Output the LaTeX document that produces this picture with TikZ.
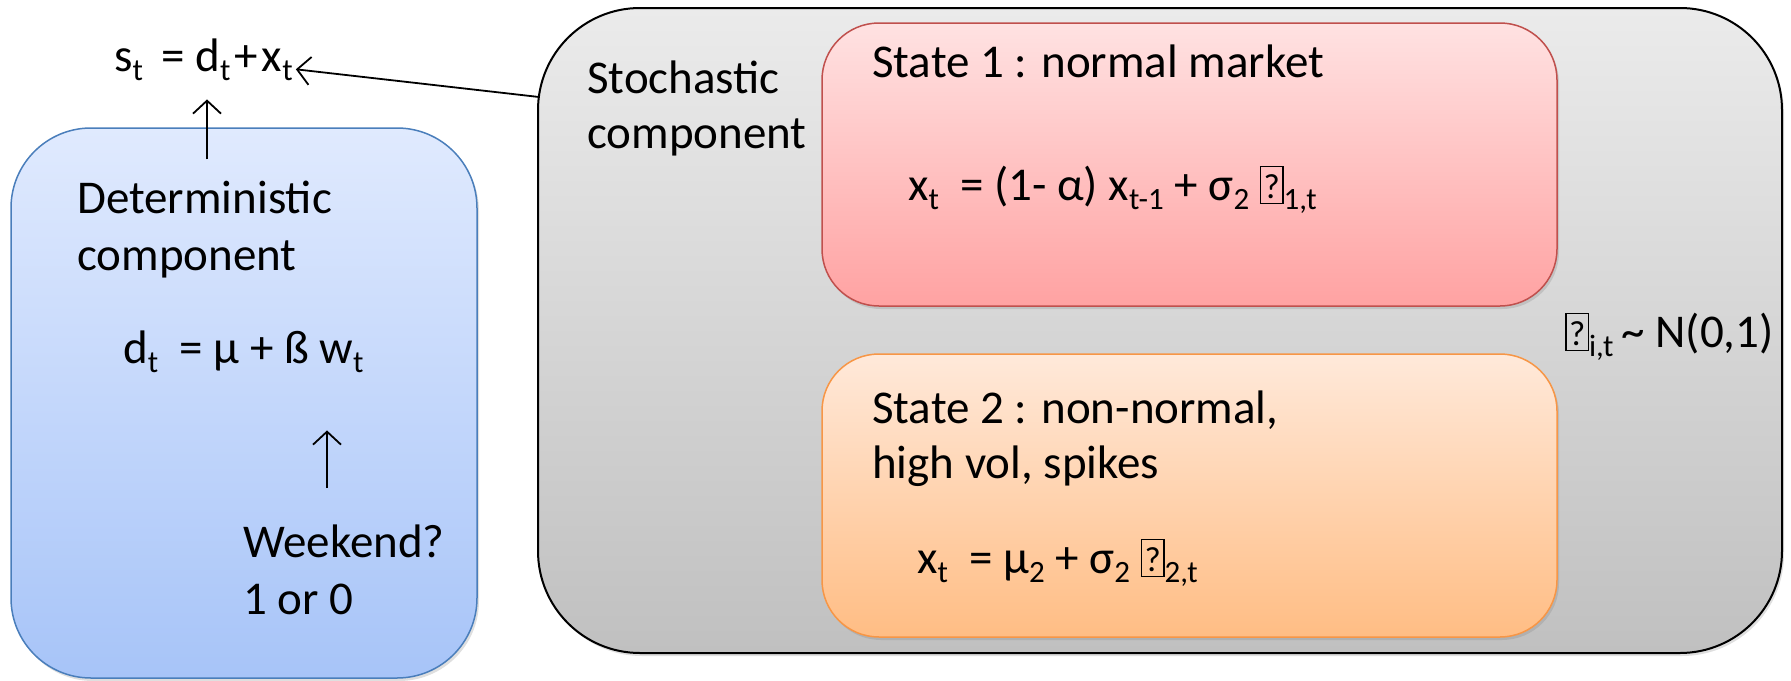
\documentclass[tikz,border=0pt]{standalone}
\usepackage{fontspec}
\setmainfont{Carlito}
\usetikzlibrary{arrows.meta,shadows}
\definecolor{bluetop}{HTML}{E0EAFE}
\definecolor{bluebot}{HTML}{A7C4F8}
\definecolor{blueline}{HTML}{4A7EBB}
\definecolor{graytop}{HTML}{EBEBEB}
\definecolor{graybot}{HTML}{C0C0C0}
\definecolor{redtop}{HTML}{FFE2E2}
\definecolor{redbot}{HTML}{FFA2A2}
\definecolor{redline}{HTML}{C0504D}
\definecolor{orgtop}{HTML}{FFE9DA}
\definecolor{orgbot}{HTML}{FFBD84}
\definecolor{orgline}{HTML}{F79646}
\newcommand\sbs[1]{\raisebox{-9pt}{\fontsize{31}{31}\selectfont #1}}
\newcommand\qbox{\raisebox{-1pt}{\setlength\fboxsep{0pt}\setlength\fboxrule{1.4pt}\fbox{\makebox[21pt]{\rule[-2pt]{0pt}{36pt}\raisebox{3pt}{\fontsize{35}{35}\selectfont ?}}}}}
\begin{document}
\begin{tikzpicture}[x=1pt,y=-1pt,
  txt/.style={anchor=base west, inner sep=0pt, font=\fontsize{47}{55}\selectfont, align=left},
  btxt/.style={anchor=base west, inner sep=0pt, font=\fontsize{47}{57}\selectfont, align=left},
  rbox/.style={rectangle, inner sep=0pt, rounded corners=#1, line width=1.5pt,
    drop shadow={shadow xshift=2pt, shadow yshift=-3pt, opacity=0.25}},
  arr/.style={line width=1.8pt, -{Straight Barb[length=13pt,width=28pt]}},
]
\useasboundingbox (0,0) rectangle (1791,680);
% boxes
\node[rbox=80pt, draw=blueline, top color=bluetop, bottom color=bluebot,
  minimum width=466pt, minimum height=550pt] (blue) at (244,403) {};
\node[rbox=102pt, draw=black, line width=2pt, top color=graytop, bottom color=graybot,
  minimum width=1244pt, minimum height=645pt] (gray) at (1160,330.5) {};
\node[rbox=57pt, draw=redline, top color=redtop, bottom color=redbot,
  minimum width=735pt, minimum height=283pt] (red) at (1189.5,164.5) {};
\node[rbox=57pt, draw=orgline, top color=orgtop, bottom color=orgbot,
  minimum width=735pt, minimum height=283pt] (org) at (1189.5,495.5) {};
% texts (multi-line nodes are placed at the baseline of their last line)
\node[txt] (seq) at (114,71) {s\sbs{t}\ \,= d\sbs{t}\kern4pt+\kern4pt x\sbs{t}};
\node[btxt] (det) at (77,270) {Deterministic\\component};
\node[btxt] (dteq) at (123,363) {d\sbs{t}\ \ = μ + ß w\sbs{t}};
\node[btxt] (wk) at (243,614) {Weekend?\\1 or 0};
\node[txt] (sto) at (587,148) {Stochastic\\component};
\node[txt] (s1) at (872,77) {State 1 : normal market};
\node[txt] (eq1) at (908,200) {x\sbs{t}\ \ = (1- α) x\sbs{t-1} + σ\sbs{2} \qbox\sbs{1,t}};
\node[txt] (s2) at (872,478) {State 2 : non-normal,\\high vol, spikes};
\node[txt] (eq2) at (917,573) {x\sbs{t}\ \ = μ\sbs{2} + σ\sbs{2} \qbox\sbs{2,t}};
\node[txt] (eps) at (1565,347) {\qbox\sbs{i,t}\,\textasciitilde\ N(0,1)};
% connectors
\coordinate (gin) at (539,97);
\coordinate (ax) at (207,0);
\coordinate (bx) at (327,0);
\draw[arr] (gin) -- ([xshift=3pt,yshift=-10pt]seq.east);
\draw[arr] ([yshift=21pt]det.north -| ax) -- ([yshift=-19pt]seq.south -| ax);
\draw[arr] ([yshift=36pt]wk.north -| bx) -- ([yshift=-58pt]dteq.south -| bx);
\end{tikzpicture}
\end{document}
